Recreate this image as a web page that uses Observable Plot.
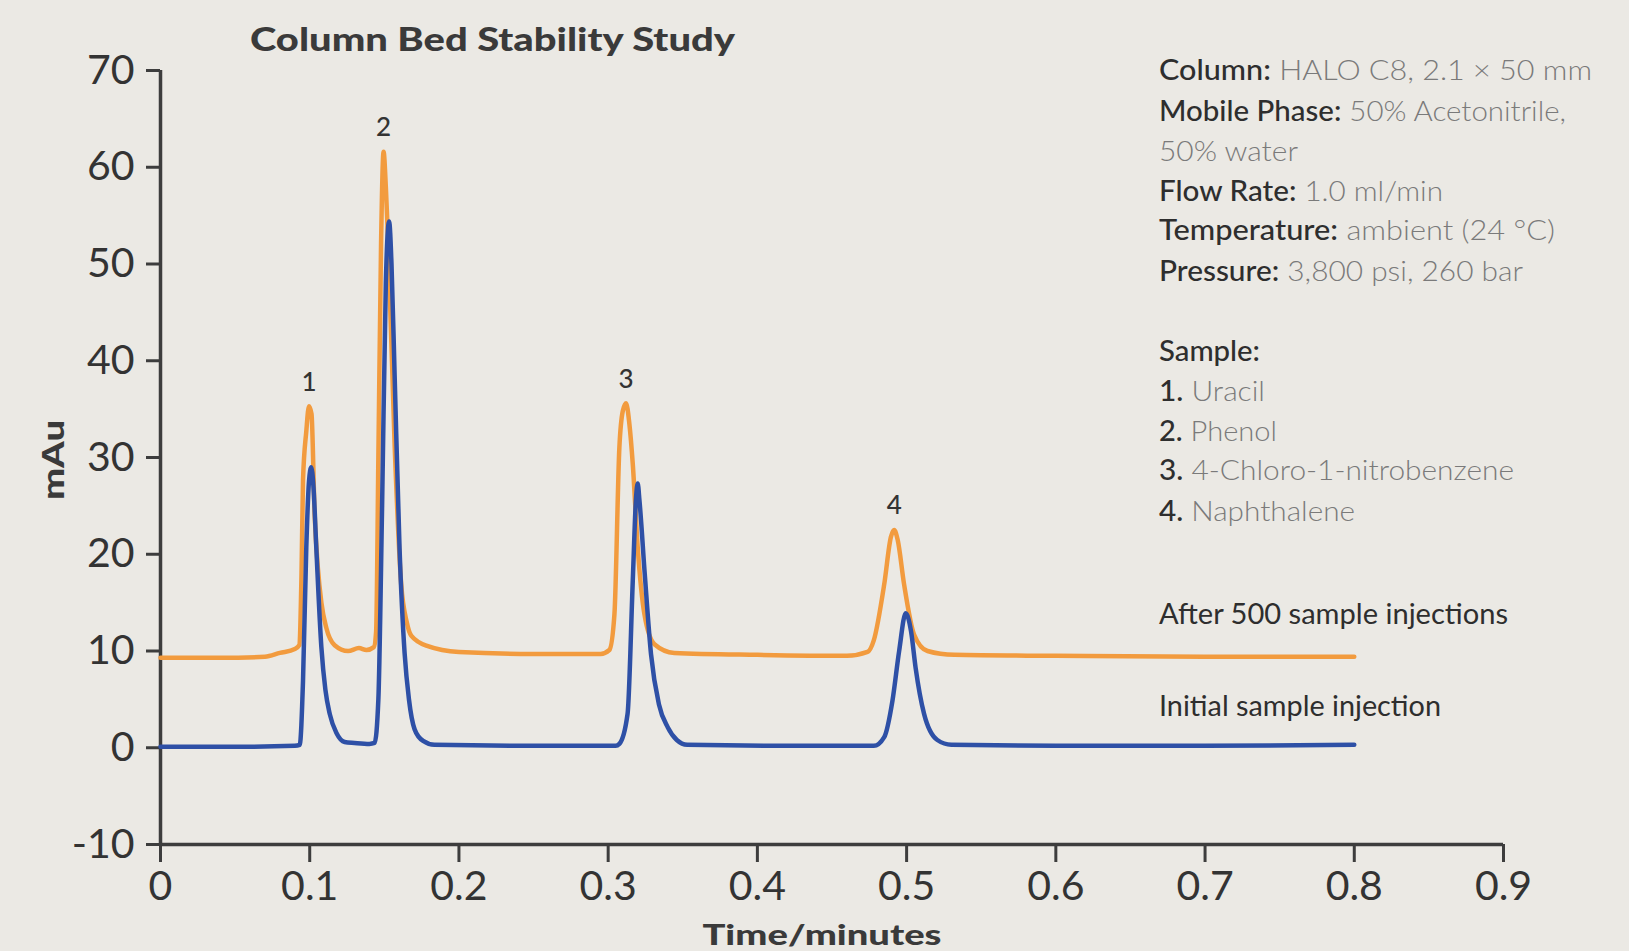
<!DOCTYPE html>
<html>
<head>
<meta charset="utf-8">
<script src="https://cdn.jsdelivr.net/npm/d3@7"></script>
<script src="https://cdn.jsdelivr.net/npm/@observablehq/plot@0.6"></script>
<style>
  html, body { margin: 0; padding: 0; background: #ebe9e4; }
  #chart { position: relative; width: 1629px; height: 951px; overflow: hidden; }
</style>
</head>
<body>
<div id="chart"></div>
<script>
// ---- Data ----
const xTicks = [0, 0.1, 0.2, 0.3, 0.4, 0.5, 0.6, 0.7, 0.8, 0.9];
const yTicks = [-10, 0, 10, 20, 30, 40, 50, 60, 70];

// After 500 sample injections (orange trace): time (min), absorbance (mAu)
const afterTime = [0, 0.04, 0.07, 0.08, 0.09, 0.093, 0.0945, 0.0955, 0.0977, 0.0995, 0.1012, 0.1033, 0.1055, 0.1078, 0.1111, 0.1167, 0.1257, 0.133, 0.138, 0.143, 0.1445, 0.146, 0.1478, 0.1495, 0.151, 0.1524, 0.1569, 0.1613, 0.165, 0.168, 0.1792, 0.2, 0.25, 0.295, 0.3008, 0.3042, 0.3075, 0.3098, 0.312, 0.3142, 0.3165, 0.3198, 0.3243, 0.331, 0.3443, 0.4, 0.46, 0.4738, 0.478, 0.485, 0.4895, 0.4917, 0.494, 0.4983, 0.505, 0.514, 0.532, 0.6, 0.7, 0.8];
const afterMau  = [9.3, 9.3, 9.4, 9.8, 10.2, 10.6, 18, 27.6, 32.7, 35.3, 34.5, 24.1, 18.5, 15.0, 12.4, 10.6, 10.0, 10.3, 10.1, 10.4, 12, 30, 52, 61.6, 58, 52.9, 31.3, 16.9, 13.0, 11.6, 10.5, 9.9, 9.7, 9.7, 10.1, 13.8, 31, 34.8, 35.6, 33.5, 29.3, 20.7, 13.8, 10.7, 9.8, 9.6, 9.5, 9.9, 11.1, 16.9, 21.8, 22.5, 21.5, 16.9, 11.7, 10.0, 9.6, 9.5, 9.4, 9.4];

// Initial sample injection (blue trace)
const initialTime = [0, 0.05, 0.09, 0.0933, 0.0955, 0.0977, 0.0995, 0.101, 0.1025, 0.1044, 0.1078, 0.1105, 0.1134, 0.118, 0.1234, 0.13, 0.14, 0.1435, 0.146, 0.1485, 0.151, 0.1532, 0.1548, 0.1569, 0.1602, 0.1636, 0.1665, 0.1703, 0.176, 0.1836, 0.25, 0.305, 0.3075, 0.313, 0.3165, 0.3187, 0.3198, 0.321, 0.3245, 0.3287, 0.334, 0.34, 0.346, 0.353, 0.42, 0.478, 0.485, 0.4905, 0.495, 0.4994, 0.503, 0.506, 0.5117, 0.5206, 0.53, 0.6, 0.7, 0.8];
const initialMau  = [0.1, 0.1, 0.2, 0.3, 6.9, 20.7, 27.5, 29.0, 27, 20.7, 10.4, 6.0, 3.5, 1.5, 0.6, 0.5, 0.4, 0.5, 5, 25, 48, 54.4, 50, 38.5, 20.6, 9.75, 5.0, 1.9, 0.7, 0.3, 0.2, 0.2, 0.4, 3.5, 17.3, 25.9, 27.3, 25.5, 18, 9.7, 4.5, 2.1, 0.8, 0.3, 0.2, 0.2, 1.1, 4.85, 10, 13.9, 12, 8.3, 3.5, 0.8, 0.3, 0.2, 0.2, 0.3];

// Peak labels (placed above the orange peaks)
const peakLabels = ["1", "2", "3", "4"];
const peakTimes  = [0.0995, 0.1495, 0.312, 0.4917];
const peakMau    = [35.3, 61.6, 35.6, 22.5];

// Text
const titleText = "Column Bed Stability Study";
const xLabel = "Time/minutes";
const yLabel = "mAu";
const conditionKeys = ["Column:", "Mobile Phase:", "", "Flow Rate:", "Temperature:", "Pressure:"];
const conditionVals = [" HALO C8, 2.1 × 50 mm", " 50% Acetonitrile,", "50% water", " 1.0 ml/min", " ambient (24 °C)", " 3,800 psi, 260 bar"];
const sampleHeader = "Sample:";
const sampleKeys = ["1.", "2.", "3.", "4."];
const sampleNames = [" Uracil", " Phenol", " 4-Chloro-1-nitrobenzene", " Naphthalene"];
const seriesNames = ["After 500 sample injections", "Initial sample injection"];

// ---- Build tables ----
const after = afterTime.map((t, i) => ({t, v: afterMau[i]}));
const initial = initialTime.map((t, i) => ({t, v: initialMau[i]}));
const peaks = peakLabels.map((label, i) => ({label, t: peakTimes[i], v: peakMau[i]}));

const ORANGE = "#f29b3e";
const BLUE = "#2e50a6";
const AXIS = "#3d3d3d";
const TEXT = "#333333";

const chart = Plot.plot({
  width: 1629,
  height: 951,
  marginLeft: 160,
  marginRight: 126,
  marginTop: 70,
  marginBottom: 107,
  style: {background: "transparent", fontFamily: "Lato, 'Open Sans', sans-serif", color: TEXT},
  x: {domain: [0, 0.9]},
  y: {domain: [-10, 70]},
  marks: [
    Plot.axisX({ticks: xTicks, tickSize: 18, tickPadding: 8, tickFormat: d => String(d),
      fontSize: 41, fontWeight: 400, stroke: AXIS, strokeWidth: 3, label: null, fill: TEXT}),
    Plot.axisY({ticks: yTicks, tickSize: 14, tickPadding: 12, tickFormat: d => String(d),
      fontSize: 41, fontWeight: 400, stroke: AXIS, strokeWidth: 3, label: null, fill: TEXT}),
    Plot.ruleX([0], {stroke: AXIS, strokeWidth: 3.5}),
    Plot.ruleY([-10], {stroke: AXIS, strokeWidth: 3.5}),
    Plot.line(after, {x: "t", y: "v", stroke: ORANGE, strokeWidth: 4.5, curve: "monotone-x"}),
    Plot.line(initial, {x: "t", y: "v", stroke: BLUE, strokeWidth: 4.5, curve: "monotone-x"}),
    Plot.text(peaks, {x: "t", y: "v", text: "label", dy: -24, fontSize: 26, fontWeight: 500, fill: TEXT})
  ]
});

document.getElementById("chart").appendChild(chart);

// ---- Annotations ----
const svg = d3.select(chart);
const ann = svg.append("g")
  .attr("font-family", "Lato, 'Open Sans', sans-serif")
  .attr("text-anchor", "start");

ann.append("text")
  .attr("x", 250).attr("y", 51)
  .attr("text-anchor", "start")
  .attr("font-size", 32).attr("font-weight", 900).attr("fill", "#3a3a3a")
  .attr("textLength", 485).attr("lengthAdjust", "spacingAndGlyphs")
  .text(titleText);

ann.append("text")
  .attr("x", 822).attr("y", 945)
  .attr("text-anchor", "middle")
  .attr("font-size", 29).attr("font-weight", 900).attr("fill", "#3a3a3a")
  .attr("textLength", 239).attr("lengthAdjust", "spacingAndGlyphs")
  .text(xLabel);

ann.append("text")
  .attr("transform", "translate(64,460) rotate(-90)")
  .attr("text-anchor", "middle")
  .attr("font-size", 31).attr("font-weight", 900).attr("fill", "#3a3a3a")
  .attr("textLength", 80).attr("lengthAdjust", "spacingAndGlyphs")
  .text(yLabel);

const infoX = 1159;
const condBase = [80, 120.5, 161, 200.5, 240, 280.5];
const condWidths = [433, 407, 139, 284, 396, 364];
conditionKeys.forEach((k, i) => {
  const t = ann.append("text").attr("x", infoX).attr("y", condBase[i]).attr("font-size", 28)
    .attr("text-anchor", "start")
    .attr("textLength", condWidths[i]).attr("lengthAdjust", "spacingAndGlyphs");
  if (k) t.append("tspan").attr("font-weight", 500).attr("fill", "#2e2e2e").text(k);
  t.append("tspan").attr("font-weight", 300).attr("fill", "#7a7a7a").text(conditionVals[i]);
});

ann.append("text").attr("x", infoX).attr("y", 360.5).attr("font-size", 28)
  .attr("text-anchor", "start")
  .attr("font-weight", 500).attr("fill", "#2e2e2e")
  .attr("textLength", 101).attr("lengthAdjust", "spacingAndGlyphs")
  .text(sampleHeader);

const sampleBase = [401, 440.5, 480, 520.5];
const sampleWidths = [106, 118, 355, 196];
sampleKeys.forEach((k, i) => {
  const t = ann.append("text").attr("x", infoX).attr("y", sampleBase[i]).attr("font-size", 28)
    .attr("text-anchor", "start")
    .attr("textLength", sampleWidths[i]).attr("lengthAdjust", "spacingAndGlyphs");
  t.append("tspan").attr("font-weight", 500).attr("fill", "#2e2e2e").text(k);
  t.append("tspan").attr("font-weight", 300).attr("fill", "#7a7a7a").text(sampleNames[i]);
});

const seriesBase = [624, 716];
const seriesWidths = [349, 282];
seriesNames.forEach((s, i) => {
  ann.append("text").attr("x", infoX).attr("y", seriesBase[i]).attr("font-size", 28)
    .attr("text-anchor", "start")
    .attr("font-weight", 400).attr("fill", "#2e2e2e")
    .attr("textLength", seriesWidths[i]).attr("lengthAdjust", "spacingAndGlyphs")
    .text(s);
});
</script>
</body>
</html>
